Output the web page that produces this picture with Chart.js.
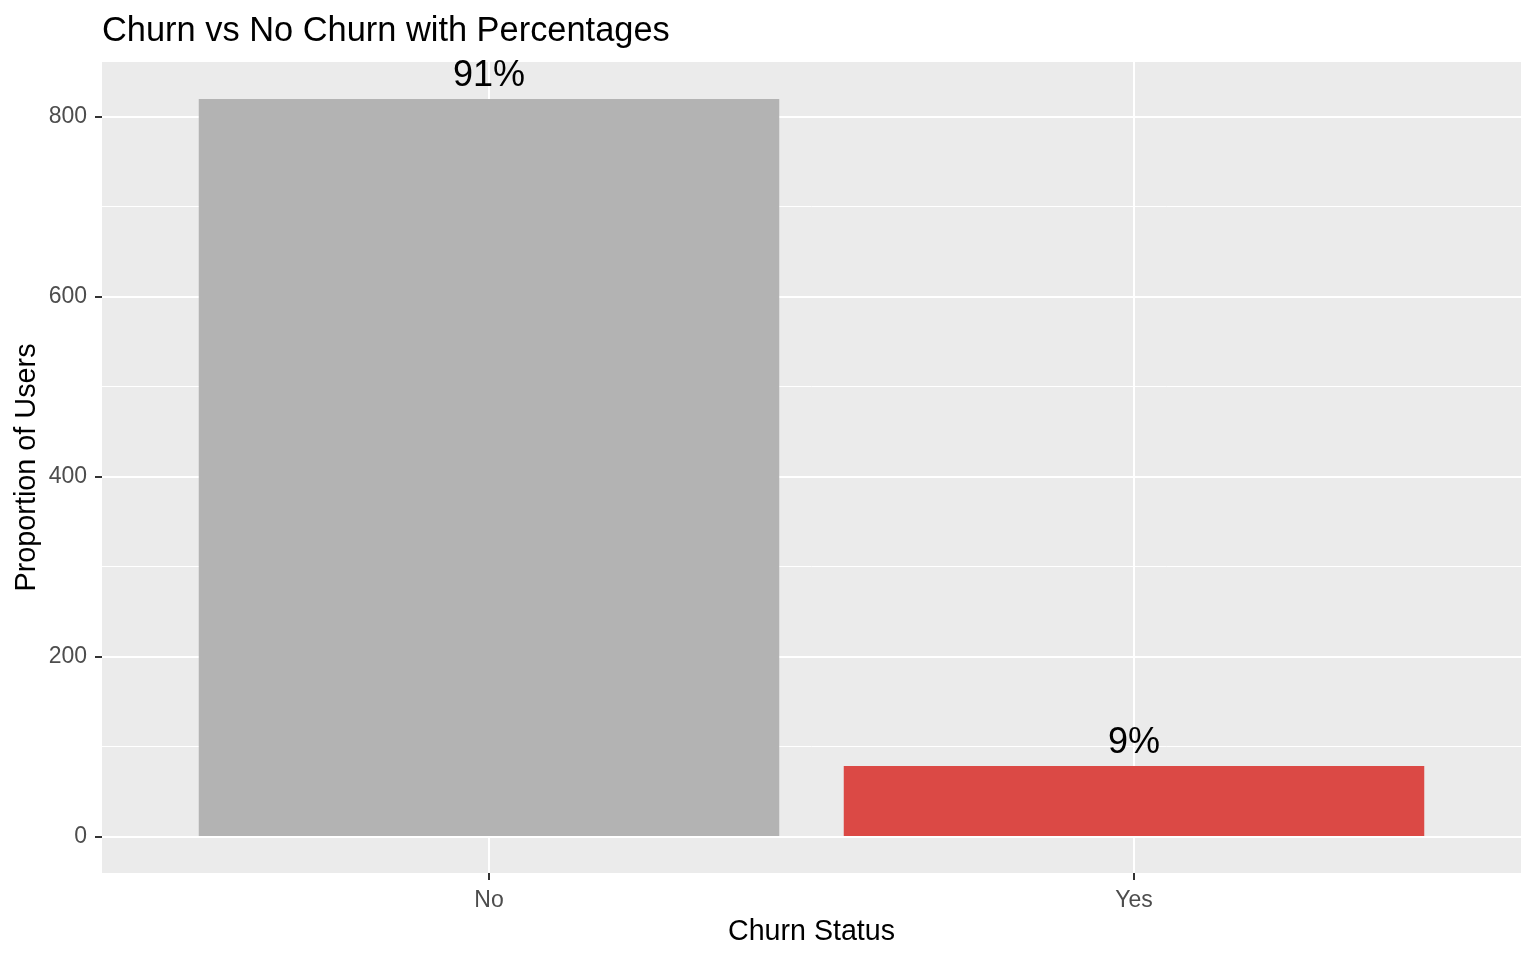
<!DOCTYPE html>
<html>
<head>
<meta charset="utf-8">
<title>Churn vs No Churn with Percentages</title>
<script src="https://cdn.jsdelivr.net/npm/chart.js@4.4.1/dist/chart.umd.min.js"></script>
<style>
  html, body { margin: 0; padding: 0; background: #ffffff; }
  #wrap { width: 1536px; height: 960px; }
</style>
</head>
<body>
<div id="wrap"><canvas id="chart" width="1536" height="960"></canvas></div>
<script>
// Data
const categories = ["No", "Yes"]
const users = [820, 79]
const percentLabels = ["91%", "9%"]
const barColors = ["#B3B3B3", "#DB4945"]
const yTicks = [0, 100, 200, 300, 400, 500, 600, 700, 800]

const FONT = "'Liberation Sans', Arial, sans-serif"

// Grey ggplot panel behind the grid
const panelBackground = {
  id: "panelBackground",
  beforeDraw(chart) {
    const { ctx, chartArea } = chart
    ctx.save()
    ctx.fillStyle = "#EBEBEB"
    ctx.fillRect(chartArea.left, chartArea.top, chartArea.right - chartArea.left, chartArea.bottom - chartArea.top)
    ctx.restore()
  },
}

// Title at the panel's left edge, like ggplot
const plotTitle = {
  id: "plotTitle",
  afterDraw(chart) {
    const { ctx, chartArea } = chart
    ctx.save()
    ctx.fillStyle = "#000000"
    ctx.font = "34.4px " + FONT
    ctx.textAlign = "left"
    ctx.textBaseline = "alphabetic"
    ctx.fillText("Churn vs No Churn with Percentages", chartArea.left, 41)
    ctx.restore()
  },
}

// Percentage text above each bar
const barLabels = {
  id: "barLabels",
  afterDatasetsDraw(chart) {
    const { ctx } = chart
    const meta = chart.getDatasetMeta(0)
    ctx.save()
    ctx.fillStyle = "#000000"
    ctx.font = "36px " + FONT
    ctx.textAlign = "center"
    ctx.textBaseline = "alphabetic"
    meta.data.forEach((bar, i) => {
      ctx.fillText(percentLabels[i], bar.x, bar.y - 13)
    })
    ctx.restore()
  },
}

const ctx = document.getElementById("chart").getContext("2d")

new Chart(ctx, {
  type: "bar",
  data: {
    datasets: [
      {
        data: categories.map((c, i) => ({ x: i + 1, y: users[i] })),
        backgroundColor: barColors,
        borderWidth: 0,
        barPercentage: 0.9,
        categoryPercentage: 1,
      },
    ],
  },
  options: {
    responsive: false,
    animation: false,
    devicePixelRatio: 1,
    layout: { padding: { top: 62, right: 15, bottom: 0, left: 0 } },
    plugins: {
      legend: { display: false },
      title: { display: false },
      tooltip: { enabled: false },
    },
    scales: {
      x: {
        type: "linear",
        min: 0.4,
        max: 2.6,
        offset: false,
        afterBuildTicks: (scale) => {
          scale.ticks = categories.map((c, i) => ({ value: i + 1 }))
        },
        afterFit: (scale) => {
          scale.height = 87
        },
        ticks: {
          autoSkip: false,
          maxRotation: 0,
          padding: 7,
          color: "#4D4D4D",
          font: { family: FONT, size: 23 },
          callback: (value) => categories[value - 1],
        },
        grid: {
          offset: false,
          color: "#FFFFFF",
          lineWidth: 2,
          tickLength: 7,
          tickColor: "#333333",
          tickWidth: 2,
        },
        border: { display: false },
        title: {
          display: true,
          text: "Churn Status",
          color: "#000000",
          font: { family: FONT, size: 28.6 },
          padding: { top: 0, bottom: 11 },
        },
      },
      y: {
        min: -40,
        max: 861,
        afterBuildTicks: (scale) => {
          scale.ticks = yTicks.map((v) => ({ value: v }))
        },
        afterFit: (scale) => {
          scale.width = 102
        },
        ticks: {
          padding: 8,
          color: "#4D4D4D",
          font: { family: FONT, size: 23 },
          callback: (value) => (value % 200 === 0 ? value : ""),
        },
        grid: {
          color: "#FFFFFF",
          lineWidth: (c) => (c.tick && c.tick.value % 200 === 0 ? 2 : 1),
          tickLength: 7,
          tickColor: (c) => (c.tick && c.tick.value % 200 === 0 ? "#333333" : "rgba(0,0,0,0)"),
          tickWidth: 2,
        },
        border: { display: false },
        title: {
          display: true,
          text: "Proportion of Users",
          color: "#000000",
          font: { family: FONT, size: 28.8 },
          padding: { top: 10, bottom: 0 },
        },
      },
    },
  },
  plugins: [panelBackground, plotTitle, barLabels],
})
</script>
</body>
</html>
